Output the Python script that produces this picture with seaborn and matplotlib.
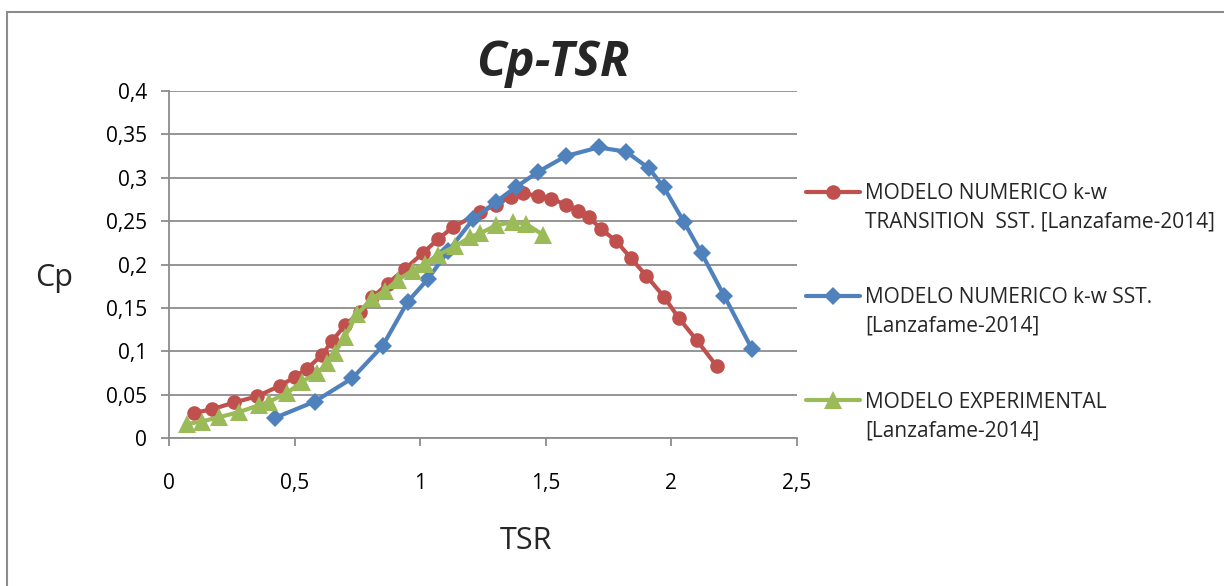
import matplotlib
matplotlib.use("Agg")
import matplotlib.pyplot as plt
import seaborn as sns
import pandas as pd
from matplotlib.lines import Line2D
from matplotlib.patches import Rectangle

# ---- data ----
tsr_red = [0.10, 0.17, 0.26, 0.35, 0.44, 0.50, 0.55, 0.61, 0.65, 0.70, 0.76, 0.81, 0.87, 0.94,
           1.01, 1.07, 1.13, 1.24, 1.30, 1.36, 1.41, 1.47, 1.52, 1.58, 1.63, 1.67, 1.72, 1.78,
           1.84, 1.90, 1.97, 2.03, 2.10, 2.18]
cp_red = [0.029, 0.033, 0.041, 0.048, 0.060, 0.070, 0.080, 0.096, 0.112, 0.130, 0.145, 0.162,
          0.178, 0.195, 0.213, 0.229, 0.243, 0.260, 0.269, 0.278, 0.282, 0.279, 0.276, 0.269,
          0.262, 0.255, 0.241, 0.227, 0.207, 0.187, 0.163, 0.138, 0.113, 0.083]

tsr_blue = [0.42, 0.58, 0.73, 0.85, 0.95, 1.03, 1.11, 1.21, 1.30, 1.38, 1.47, 1.58, 1.71,
            1.82, 1.91, 1.97, 2.05, 2.12, 2.21, 2.32]
cp_blue = [0.023, 0.042, 0.069, 0.106, 0.157, 0.183, 0.215, 0.252, 0.272, 0.289, 0.307, 0.325,
           0.335, 0.330, 0.311, 0.289, 0.249, 0.213, 0.164, 0.103]

tsr_green = [0.07, 0.13, 0.20, 0.28, 0.36, 0.40, 0.47, 0.53, 0.59, 0.63, 0.66, 0.70, 0.75,
             0.81, 0.86, 0.91, 0.97, 1.02, 1.07, 1.14, 1.20, 1.24, 1.30, 1.37, 1.42, 1.49]
cp_green = [0.016, 0.019, 0.024, 0.030, 0.038, 0.042, 0.052, 0.065, 0.075, 0.086, 0.098, 0.117,
            0.143, 0.161, 0.170, 0.182, 0.193, 0.201, 0.211, 0.221, 0.232, 0.236, 0.245, 0.249,
            0.247, 0.234]

labels = ["MODELO NUMERICO k-w\nTRANSITION  SST. [Lanzafame-2014]",
          "MODELO NUMERICO k-w SST.\n[Lanzafame-2014]",
          "MODELO EXPERIMENTAL\n[Lanzafame-2014]"]
x_ticks = [0, 0.5, 1, 1.5, 2, 2.5]
x_ticklabels = ["0", "0,5", "1", "1,5", "2", "2,5"]
y_ticks = [0, 0.05, 0.1, 0.15, 0.2, 0.25, 0.3, 0.35, 0.4]
y_ticklabels = ["0", "0,05", "0,1", "0,15", "0,2", "0,25", "0,3", "0,35", "0,4"]

colors = ["#C0504D", "#4F81BD", "#9BBB59"]
markers = ["o", "D", "^"]
msizes = [10.5, 9.5, 13]

sns.set_theme(style="white")
plt.rcParams["font.family"] = ["Open Sans", "DejaVu Sans"]

fig = plt.figure(figsize=(12.24, 5.86), dpi=100)
ax = fig.add_axes([169/1224, (586-438)/586, (797-169)/1224, (438-91)/586])

series = [(tsr_red, cp_red), (tsr_blue, cp_blue), (tsr_green, cp_green)]
for i, (xs, ys) in enumerate(series):
    df = pd.DataFrame({"TSR": xs, "Cp": ys})
    sns.lineplot(data=df, x="TSR", y="Cp", ax=ax, sort=False, color=colors[i],
                 marker=markers[i], markersize=msizes[i], markeredgewidth=0,
                 linewidth=3, zorder=3 + i, legend=False)

ax.set_xlim(0, 2.5)
ax.set_ylim(0, 0.4)
ax.set_xticks(x_ticks)
ax.set_xticklabels(x_ticklabels)
ax.set_yticks(y_ticks)
ax.set_yticklabels(y_ticklabels)
grid_c = "#8C8C8C"
ax.grid(axis="y", color=grid_c, linewidth=1.3)
ax.grid(axis="x", visible=False)
for s in ["top", "right"]:
    ax.spines[s].set_visible(False)
for s in ["left", "bottom"]:
    ax.spines[s].set_color(grid_c)
    ax.spines[s].set_linewidth(1.3)
ax.tick_params(axis="both", which="both", direction="out", length=6, width=1.3,
               color=grid_c, labelsize=15, labelcolor="black")
ax.tick_params(axis="x", pad=19, bottom=True)
ax.tick_params(axis="y", pad=10, left=True)

ax.set_xlabel("TSR", fontsize=22)
ax.xaxis.set_label_coords((526-169)/628, (438-526)/347)
ax.set_ylabel("Cp", fontsize=22, rotation=0, ha="center", va="center")
ax.yaxis.set_label_coords((54-169)/628, (438-278)/347)

fig.text(553/1224, 1-64/586, "Cp-TSR", fontsize=35, fontweight="bold", fontstyle="italic",
         ha="center", va="center")

# legend: handle aligned with first text line of each entry
blank = Line2D([], [], color="none")
handles, labs = [], []
for i in range(3):
    l1, l2 = labels[i].split("\n")
    handles.append(Line2D([], [], color=colors[i], marker=markers[i], markersize=msizes[i],
                          markeredgewidth=0, linewidth=3))
    labs.append(l1)
    handles.append(blank)
    labs.append(l2)
    if i < 2:
        handles.append(blank)
        labs.append(" ")
leg = fig.legend(handles, labs, loc="upper left", bbox_to_anchor=(806/1224, 1-183/586),
                 frameon=False, fontsize=15, handlelength=2.6, handletextpad=0.24,
                 labelspacing=0.35, borderpad=0, borderaxespad=0)
for j, t in enumerate(leg.get_texts()):
    if labs[j] == " ":
        t.set_fontsize(28.5)

# outer chart frame
fig.patches.append(Rectangle((7/1224, -0.1), 1.2, (586-12)/586 + 0.1, transform=fig.transFigure,
                             fill=False, edgecolor="#8C8C8C", linewidth=1.5))

fig.savefig("out.png", dpi=100)
